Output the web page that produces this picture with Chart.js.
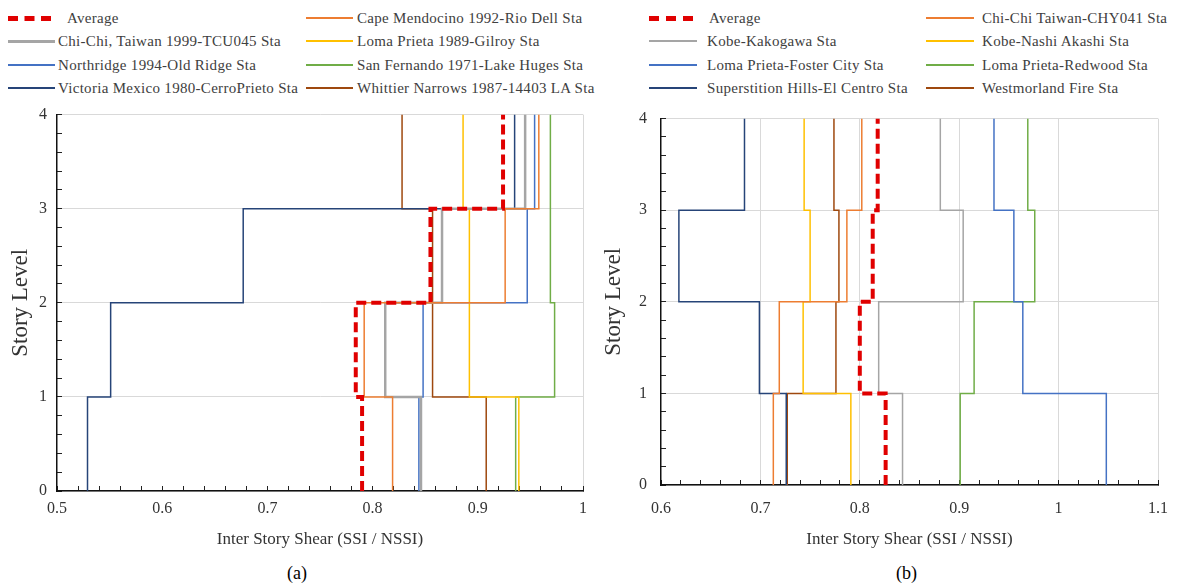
<!DOCTYPE html>
<html lang="en">
<head>
  <meta charset="UTF-8" />
  <title>Inter Story Shear (SSI / NSSI)</title>
  <style>
    * {
      margin: 0;
      padding: 0;
      box-sizing: border-box;
    }

    body {
      width: 1187px;
      height: 588px;
      background: #fff;
      position: relative;
      overflow: hidden;
      font-family: 'Liberation Serif', 'Times New Roman', serif;
    }

    canvas {
      position: absolute;
      top: 90px;
    }

    #chartA { left: 0; }
    #chartB { left: 600px; }

    .item {
      position: absolute;
      height: 20px;
      line-height: 20px;
      white-space: nowrap;
      font-size: 15px;
      letter-spacing: 0.3px;
      color: #404040;
    }

    .item .swatch {
      position: absolute;
      left: 0;
    }

    .item span {
      position: absolute;
      top: 0;
    }

    .caption {
      position: absolute;
      top: 563px;
      font-size: 18px;
      color: #000;
    }
  </style>
</head>
<body>
  <div id="legendA"></div>
  <div id="legendB"></div>
  <canvas id="chartA" width="600" height="470"></canvas>
  <canvas id="chartB" width="587" height="470"></canvas>
  <div class="caption" style="left:287px">(a)</div>
  <div class="caption" style="left:896px">(b)</div>

  <script src="https://cdn.jsdelivr.net/npm/chart.js"></script>
  <script>
    // values are per story (story 1..4)

    // ---- (a)
    const namesA = [
      'Average',
      'Cape Mendocino 1992-Rio Dell Sta',
      'Chi-Chi, Taiwan 1999-TCU045 Sta',
      'Loma Prieta 1989-Gilroy Sta',
      'Northridge 1994-Old Ridge Sta',
      'San Fernando 1971-Lake Huges Sta',
      'Victoria Mexico 1980-CerroPrieto Sta',
      'Whittier Narrows 1987-14403 LA Sta'
    ];
    const averageA      = [0.790, 0.784, 0.855, 0.924];
    const capeMendocino = [0.819, 0.792, 0.926, 0.958];
    const chiChiTCU045  = [0.846, 0.812, 0.866, 0.945];
    const lomaGilroy    = [0.939, 0.892, 0.892, 0.886];
    const northridge    = [0.844, 0.848, 0.947, 0.954];
    const sanFernando   = [0.936, 0.973, 0.969, 0.969];
    const victoria      = [0.529, 0.551, 0.677, 0.935];
    const whittier      = [0.908, 0.857, 0.857, 0.828];
    const xTickLabelsA = ['0.5', '0.6', '0.7', '0.8', '0.9', '1'];

    // ---- (b)
    const namesB = [
      'Average',
      'Chi-Chi Taiwan-CHY041 Sta',
      'Kobe-Kakogawa Sta',
      'Kobe-Nashi Akashi Sta',
      'Loma Prieta-Foster City Sta',
      'Loma Prieta-Redwood Sta',
      'Superstition Hills-El Centro Sta',
      'Westmorland Fire Sta'
    ];
    const averageB     = [0.826, 0.800, 0.813, 0.818];
    const chiChiCHY041 = [0.713, 0.719, 0.787, 0.802];
    const kakogawa     = [0.843, 0.819, 0.904, 0.881];
    const nashiAkashi  = [0.791, 0.743, 0.750, 0.744];
    const fosterCity   = [1.048, 0.964, 0.955, 0.935];
    const redwood      = [0.901, 0.915, 0.976, 0.969];
    const superstition = [0.726, 0.699, 0.618, 0.684];
    const westmorland  = [0.727, 0.776, 0.779, 0.774];
    const xTickLabelsB = ['0.6', '0.7', '0.8', '0.9', '1', '1.1'];

    const yTickLabels = ['0', '1', '2', '3', '4'];

    // styles
    const colors = ['#e00000', '#ED7D31', '#A5A5A5', '#FFC000', '#4472C4', '#70AD47', '#264478', '#9E480E'];
    const widthsA = [4, 1.5, 2.5, 1.5, 1.5, 1.5, 1.5, 1.5];
    const widthsB = [4, 1.5, 1.5, 1.5, 1.5, 1.5, 1.5, 1.5];
    const avgDash = [10, 5];
    const font = "'Liberation Serif', 'Times New Roman', serif";
    const textColor = '#333';
    const gridColor = '#d9d9d9';
    const clear = 'rgba(0,0,0,0)';

    // vertical profile: each story value spans from level i to i+1
    function stepPoints(values) {
      const pts = [];
      values.forEach((v, i) => {
        pts.push({ x: v, y: i });
        pts.push({ x: v, y: i + 1 });
      });
      return pts;
    }

    function fmt(v, digits) {
      return String(parseFloat(v.toFixed(digits)));
    }

    function buildChart(id, c) {
      const datasets = c.values.map((vals, i) => ({
        label: c.names[i],
        data: stepPoints(vals),
        showLine: true,
        borderColor: colors[i],
        borderWidth: c.widths[i],
        borderDash: i === 0 ? avgDash : [],
        pointRadius: 0,
        fill: false
      }));

      new Chart(document.getElementById(id), {
        type: 'scatter',
        data: { datasets },
        options: {
          responsive: false,
          animation: false,
          layout: { padding: { left: 0, top: 20, right: c.padRight, bottom: 0 } },
          plugins: { legend: { display: false }, tooltip: { enabled: false } },
          scales: {
            x: {
              type: 'linear',
              min: c.xMin,
              max: c.xMax,
              afterFit: s => { s.height = c.xAxisHeight; },
              ticks: {
                stepSize: 0.02,
                autoSkip: false,
                maxRotation: 0,
                padding: c.xTickPad,
                color: textColor,
                font: { family: font, size: 16 },
                callback: v => {
                  const t = fmt(v, 2);
                  return c.xLabels.includes(t) ? t : '';
                }
              },
              grid: {
                color: ctx => c.xGrid.includes(fmt(ctx.tick.value, 2)) ? gridColor : clear,
                tickColor: '#222',
                tickLength: -5
              },
              border: { color: '#111', width: 1.5 },
              title: {
                display: true,
                text: 'Inter Story Shear (SSI / NSSI)',
                color: textColor,
                font: { family: font, size: 17 },
                padding: { top: 0, bottom: 10 }
              }
            },
            y: {
              type: 'linear',
              min: 0,
              max: 4,
              afterFit: s => { s.width = c.yAxisWidth; },
              ticks: {
                stepSize: 0.2,
                autoSkip: false,
                padding: c.yTickPad,
                color: textColor,
                font: { family: font, size: 16 },
                callback: v => {
                  const t = fmt(v, 1);
                  return yTickLabels.includes(t) ? t : '';
                }
              },
              grid: {
                color: ctx => yTickLabels.includes(fmt(ctx.tick.value, 1)) ? gridColor : clear,
                tickColor: '#222',
                tickLength: -5
              },
              border: { color: '#111', width: 1.5 },
              title: {
                display: true,
                text: 'Story Level',
                color: textColor,
                font: { family: font, size: 23 },
                padding: { top: c.yTitlePad, bottom: 0 }
              }
            }
          }
        }
      });
    }

    function buildLegend(id, names, widths, pos) {
      const box = document.getElementById(id);
      names.forEach((name, i) => {
        const col = i % 2;
        const row = Math.floor(i / 2);
        const item = document.createElement('div');
        item.className = 'item';
        item.style.left = pos.cols[col] + 'px';
        item.style.top = (pos.top + row * pos.rowGap - 10) + 'px';
        const sw = document.createElement('div');
        sw.className = 'swatch';
        const w = i === 0 ? 5 : (widths[i] > 2 ? 3 : 2);
        sw.style.borderTop = w + 'px ' + (i === 0 ? 'dashed ' : 'solid ') + colors[i];
        sw.style.top = (10 - w / 2) + 'px';
        sw.style.width = (i === 0 ? pos.swatch - 4 : pos.swatch) + 'px';
        const label = document.createElement('span');
        label.style.left = (i === 0 ? pos.avgText : pos.text[col]) + 'px';
        label.textContent = name;
        item.appendChild(sw);
        item.appendChild(label);
        box.appendChild(item);
      });
    }

    buildChart('chartA', {
      names: namesA,
      values: [averageA, capeMendocino, chiChiTCU045, lomaGilroy, northridge, sanFernando, victoria, whittier],
      widths: widthsA,
      xMin: 0.5, xMax: 1,
      xLabels: xTickLabelsA,
      xGrid: ['1'],
      padRight: 16,
      xAxisHeight: 69,
      yAxisWidth: 57,
      xTickPad: 13,
      yTickPad: 15,
      yTitlePad: 7
    });

    buildChart('chartB', {
      names: namesB,
      values: [averageB, chiChiCHY041, kakogawa, nashiAkashi, fosterCity, redwood, superstition, westmorland],
      widths: widthsB,
      xMin: 0.6, xMax: 1.1,
      xLabels: xTickLabelsB,
      xGrid: ['0.7', '0.8', '0.9', '1', '1.1'],
      padRight: 14,
      xAxisHeight: 75,
      yAxisWidth: 61,
      xTickPad: 19,
      yTickPad: 19,
      yTitlePad: 0
    });

    buildLegend('legendA', namesA, widthsA, { cols: [8, 306], top: 18, rowGap: 23.3, swatch: 47, text: [50, 51], avgText: 59 });
    buildLegend('legendB', namesB, widthsB, { cols: [649, 926], top: 18, rowGap: 23.3, swatch: 48, text: [58, 56], avgText: 60 });
  </script>
</body>
</html>
